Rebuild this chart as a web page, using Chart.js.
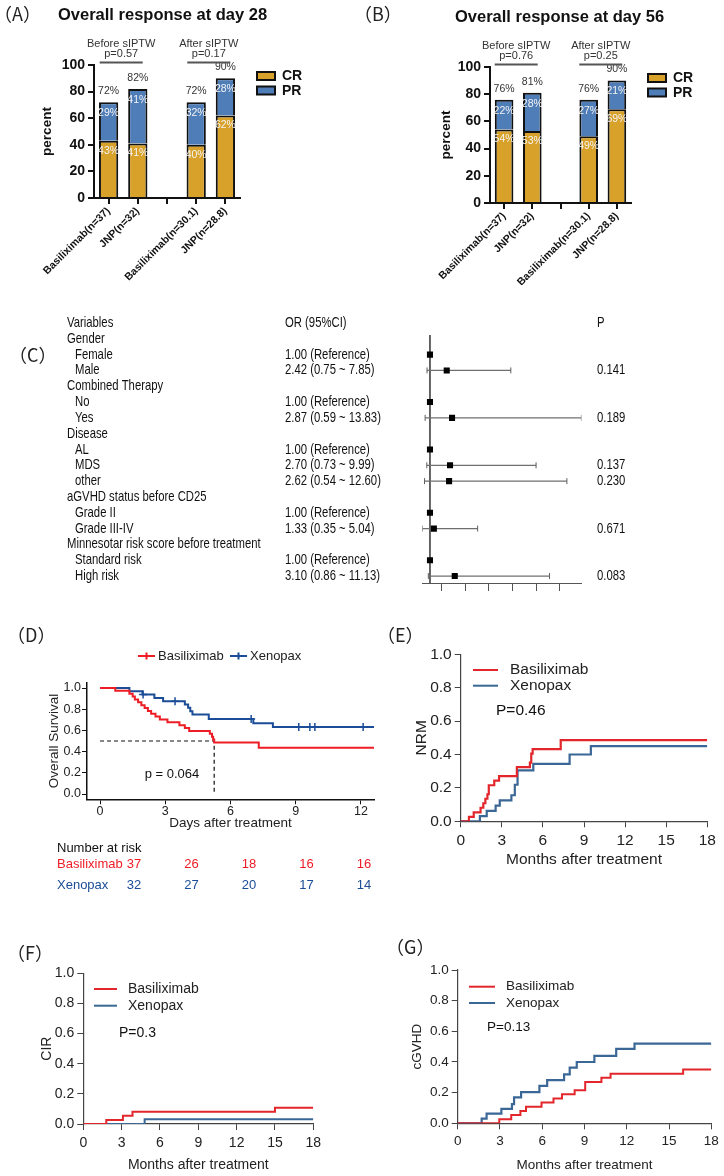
<!DOCTYPE html>
<html>
<head>
<meta charset="utf-8">
<script src="https://cdn.jsdelivr.net/npm/chart.js@4.4.1/dist/chart.umd.min.js"></script>
<style>
  body { margin: 0; background: #fff; }
  #page { position: relative; width: 724px; height: 1176px; overflow: hidden; }
  canvas { position: absolute; }
  .tag { position: absolute; font-family: "Noto Sans CJK SC", sans-serif; font-size: 18px; line-height: 18px; color: #222; white-space: nowrap; }
  .ttl { position: absolute; font-family: "Liberation Sans", Arial, sans-serif; font-weight: bold; font-size: 16.5px; line-height: 16.5px; color: #111; white-space: nowrap; }
</style>
</head>
<body>
<div id="page">
  <canvas id="chartA" width="362" height="285" style="left:0;top:0"></canvas>
  <canvas id="chartB" width="362" height="285" style="left:362px;top:0"></canvas>
  <canvas id="chartC" width="724" height="320" style="left:0;top:300px"></canvas>
  <canvas id="chartD" width="380" height="300" style="left:0;top:620px"></canvas>
  <canvas id="chartE" width="344" height="300" style="left:380px;top:620px"></canvas>
  <canvas id="chartF" width="362" height="256" style="left:0;top:920px"></canvas>
  <canvas id="chartG" width="362" height="256" style="left:362px;top:920px"></canvas>

  <div class="tag" style="left:-6px;top:4px">（A）</div>
  <div class="ttl" style="left:58px;top:6px">Overall response at day 28</div>
  <div class="tag" style="left:354px;top:4px">（B）</div>
  <div class="ttl" style="left:455px;top:8px">Overall response at day 56</div>
  <div class="tag" style="left:9px;top:345px">（C）</div>
  <div class="tag" style="left:7px;top:625px">（D）</div>
  <div class="tag" style="left:377px;top:625px">（E）</div>
  <div class="tag" style="left:7px;top:943px">（F）</div>
  <div class="tag" style="left:386px;top:937px">（G）</div>
</div>
<script>
// ---- data: overall response (A, B) ----
const barCategories = ['Basiliximab(n=37)', 'JNP(n=32)', '', 'Basiliximab(n=30.1)', 'JNP(n=28.8)'];
const day28CR = [43, 41, null, 40, 62];
const day28PR = [29, 41, null, 32, 28];
const day56CR = [54, 53, null, 49, 69];
const day56PR = [22, 28, null, 27, 21];
const groupNames = ['Before sIPTW', 'After sIPTW'];
const groupPairs = [[0, 1], [3, 4]];
const day28P = ['p=0.57', 'p=0.17'];
const day56P = ['p=0.76', 'p=0.25'];

// ---- data: forest plot (C) ----
const forestRows = ['Variables', 'Gender', 'Female', 'Male', 'Combined Therapy', 'No', 'Yes', 'Disease', 'AL', 'MDS', 'other',
  'aGVHD status before CD25', 'Grade II', 'Grade III-IV', 'Minnesotar risk score before treatment', 'Standard risk', 'High risk'];
const forestSub = [0, 0, 1, 1, 0, 1, 1, 0, 1, 1, 1, 0, 1, 1, 0, 1, 1];
const forestOrText = ['OR (95%CI)', '', '1.00 (Reference)', '2.42 (0.75 ~ 7.85)', '', '1.00 (Reference)', '2.87 (0.59 ~ 13.83)', '',
  '1.00 (Reference)', '2.70 (0.73 ~ 9.99)', '2.62 (0.54 ~ 12.60)', '', '1.00 (Reference)', '1.33 (0.35 ~ 5.04)', '', '1.00 (Reference)', '3.10 (0.86 ~ 11.13)'];
const forestOR = [null, null, 1, 2.42, null, 1, 2.87, null, 1, 2.70, 2.62, null, 1, 1.33, null, 1, 3.10];
const forestLow = [null, null, null, 0.75, null, null, 0.59, null, null, 0.73, 0.54, null, null, 0.35, null, null, 0.86];
const forestHigh = [null, null, null, 7.85, null, null, 13.83, null, null, 9.99, 12.60, null, null, 5.04, null, null, 11.13];
const forestP = ['P', '', '', '0.141', '', '', '0.189', '', '', '0.137', '0.230', '', '', '0.671', '', '', '0.083'];
const forestTicks = [2, 4, 6, 8, 10, 12];

// ---- data: overall survival (D) ----
const osBasiTime = [0, 0.7, 1.35, 1.5, 1.6, 1.75, 1.9, 2.05, 2.2, 2.35, 2.55, 2.75, 3.1, 3.65, 3.9, 4.1, 5.05, 5.15, 5.2, 5.25, 7.3, 12.6];
const osBasi = [1, 0.973, 0.946, 0.919, 0.892, 0.865, 0.838, 0.811, 0.784, 0.757, 0.730, 0.703, 0.676, 0.649, 0.622, 0.595, 0.568, 0.541, 0.514, 0.487, 0.437, 0.437];
const osXenoTime = [0, 1.35, 1.95, 2.5, 2.9, 3.9, 4.05, 4.15, 4.25, 5.0, 7.05, 7.95, 12.6];
const osXeno = [1, 0.969, 0.938, 0.906, 0.875, 0.844, 0.813, 0.781, 0.75, 0.707, 0.667, 0.632, 0.632];
const osXenoCensorTime = [1.98, 3.45, 6.95, 9.14, 9.65, 9.88, 12.1];
const osXenoCensor = [0.938, 0.875, 0.707, 0.632, 0.632, 0.632, 0.632];
const osMedianBasi = 5.25;
const riskTimes = [0, 3, 6, 9, 12];
const riskBasi = [37, 26, 18, 16, 16];
const riskXeno = [32, 27, 20, 17, 14];

// ---- data: NRM (E), CIR (F), cGVHD (G) ----
const nrmBasiTime = [0, 0.6, 0.95, 1.45, 1.65, 1.8, 1.95, 2.05, 2.45, 2.8, 4.1, 5.05, 5.15, 5.25, 7.3, 18];
const nrmBasi = [0, 0.027, 0.054, 0.081, 0.108, 0.135, 0.162, 0.216, 0.243, 0.27, 0.324, 0.351, 0.405, 0.432, 0.486, 0.486];
const nrmXenoTime = [0, 1.4, 1.9, 2.55, 2.85, 3.7, 3.95, 4.15, 5.3, 7.95, 9.5, 18];
const nrmXeno = [0, 0.031, 0.062, 0.094, 0.125, 0.156, 0.219, 0.305, 0.344, 0.40, 0.45, 0.45];
const cirBasiTime = [0, 1.8, 3.1, 3.85, 15.0, 18];
const cirBasi = [0, 0.027, 0.054, 0.081, 0.108, 0.108];
const cirXenoTime = [0, 4.8, 18];
const cirXeno = [0, 0.031, 0.031];
const gvhdBasiTime = [0, 2.95, 3.8, 4.45, 4.85, 5.95, 6.8, 7.4, 8.3, 9.05, 10.2, 10.85, 16.0, 18];
const gvhdBasi = [0, 0.027, 0.054, 0.081, 0.108, 0.135, 0.162, 0.189, 0.216, 0.27, 0.297, 0.324, 0.351, 0.351];
const gvhdXenoTime = [0, 1.7, 2.05, 3.1, 3.85, 4.0, 4.5, 5.8, 6.35, 7.55, 7.95, 8.45, 9.7, 11.25, 12.55, 18];
const gvhdXeno = [0, 0.031, 0.063, 0.094, 0.125, 0.169, 0.203, 0.244, 0.281, 0.319, 0.363, 0.40, 0.44, 0.485, 0.52, 0.52];

const FONT = '"Liberation Sans", Arial, Helvetica, sans-serif';
const CR_COLOR = '#D8A12A';
const PR_COLOR = '#4F7DB8';

Chart.defaults.font.family = FONT;
Chart.defaults.color = '#222';
Chart.defaults.animation = false;

function pairs(xs, ys) {
  return xs.map((x, i) => ({ x: x, y: ys[i] }));
}

// labels inside / above stacked bars, group headers and the CR/PR key
const responseLabelsPlugin = {
  id: 'responseLabels',
  afterDatasetsDraw(chart, args, opts) {
    const ctx = chart.ctx;
    const area = chart.chartArea;
    const x = chart.scales.x;
    const cr = chart.data.datasets[0].data;
    const pr = chart.data.datasets[1].data;
    const crMeta = chart.getDatasetMeta(0);
    const prMeta = chart.getDatasetMeta(1);
    ctx.save();
    ctx.textAlign = 'center';
    ctx.textBaseline = 'middle';
    ctx.font = '10.5px ' + FONT;
    cr.forEach((v, i) => {
      if (v == null) return;
      const a = crMeta.data[i], b = prMeta.data[i];
      ctx.fillStyle = '#f4f4f4';
      ctx.fillText(v + '%', a.x, a.y + 10);
      ctx.fillText(pr[i] + '%', b.x, b.y + 11);
      ctx.fillStyle = '#333';
      ctx.fillText((v + pr[i]) + '%', b.x, b.y - 11);
    });
    ctx.font = '11px ' + FONT;
    groupNames.forEach((name, g) => {
      const c = (x.getPixelForValue(groupPairs[g][0]) + x.getPixelForValue(groupPairs[g][1])) / 2 - 2;
      ctx.fillStyle = '#333';
      ctx.fillText(name, c, area.top - 21);
      ctx.fillText(opts.pLabels[g], c, area.top - 11);
      ctx.strokeStyle = '#555';
      ctx.lineWidth = 2;
      ctx.beginPath();
      ctx.moveTo(c - 21.5, area.top - 2.5);
      ctx.lineTo(c + 21.5, area.top - 2.5);
      ctx.stroke();
    });
    // key
    ctx.textAlign = 'left';
    ctx.font = 'bold 14px ' + FONT;
    chart.data.datasets.forEach((ds, k) => {
      const lx = area.right + 17, ly = area.top + 7 + k * 14.5;
      ctx.fillStyle = ds.backgroundColor;
      ctx.fillRect(lx, ly, 18, 8);
      ctx.strokeStyle = '#111';
      ctx.lineWidth = 2;
      ctx.strokeRect(lx, ly, 18, 8);
      ctx.fillStyle = '#111';
      ctx.fillText(ds.label, lx + 25, ly + 4.5);
    });
    ctx.restore();
  }
};

function responseChart(id, cr, pr, pLabels, box) {
  return new Chart(document.getElementById(id), {
    type: 'bar',
    data: {
      labels: barCategories,
      datasets: [
        { label: 'CR', data: cr, backgroundColor: CR_COLOR, borderColor: '#111', borderWidth: 2, barPercentage: 0.66, categoryPercentage: 1 },
        { label: 'PR', data: pr, backgroundColor: PR_COLOR, borderColor: '#111', borderWidth: 2, barPercentage: 0.66, categoryPercentage: 1 }
      ]
    },
    options: {
      responsive: false,
      devicePixelRatio: 1,
      layout: { padding: { left: box.padLeft, top: box.top, right: box.padRight, bottom: 0 } },
      plugins: { legend: { display: false }, tooltip: { enabled: false }, responseLabels: { pLabels: pLabels } },
      scales: {
        x: {
          stacked: true,
          grid: { offset: false, drawOnChartArea: false, tickLength: 6, color: '#111', lineWidth: 2 },
          border: { color: '#111', width: 2 },
          ticks: { font: { size: 10.5, weight: 'bold' }, color: '#111', minRotation: 45, maxRotation: 45, autoSkip: false, padding: 1 },
          afterFit: s => { s.height = box.xHeight; }
        },
        y: {
          stacked: true,
          min: 0,
          max: 100,
          ticks: { stepSize: 20, font: { size: 14, weight: 'bold' }, color: '#111', padding: 3 },
          grid: { drawOnChartArea: false, tickLength: 6, color: '#111', lineWidth: 2 },
          border: { color: '#111', width: 2 },
          title: { display: true, text: 'percent', font: { size: 13.5, weight: 'bold' }, color: '#111', padding: { top: 0, bottom: 4 } },
          afterFit: s => { s.width = box.yWidth; }
        }
      }
    },
    plugins: [responseLabelsPlugin]
  });
}

responseChart('chartA', day28CR, day28PR, day28P, { padLeft: 39, yWidth: 55, top: 65, padRight: 122, xHeight: 87 });
responseChart('chartB', day56CR, day56PR, day56P, { padLeft: 76, yWidth: 52, top: 67, padRight: 93, xHeight: 82 });

// ---- forest plot ----
// the source uses a narrow face; draw Liberation Sans squeezed horizontally
function narrowText(ctx, text, x, y) {
  ctx.save();
  ctx.translate(x, y);
  ctx.scale(0.78, 1);
  ctx.fillText(text, 0, 0);
  ctx.restore();
}

const forestTextPlugin = {
  id: 'forestText',
  afterDraw(chart) {
    const ctx = chart.ctx;
    const y = chart.scales.y;
    ctx.save();
    ctx.font = '14.5px ' + FONT;
    ctx.fillStyle = '#111';
    ctx.textBaseline = 'middle';
    ctx.textAlign = 'left';
    forestRows.forEach((label, i) => {
      const py = y.getPixelForValue(i);
      narrowText(ctx, label, forestSub[i] ? 75 : 67, py);
      narrowText(ctx, forestOrText[i], 285, py);
      narrowText(ctx, forestP[i], 597, py);
    });
    ctx.restore();
  }
};

const forestSets = [];
forestOR.forEach((v, i) => {
  if (forestLow[i] == null) return;
  forestSets.push({
    data: [{ x: forestLow[i], y: i }, { x: forestHigh[i], y: i }],
    borderColor: '#6f6f6f', borderWidth: 1.2,
    pointStyle: 'line', rotation: 90, pointRadius: 3, pointBorderColor: '#5f5f5f', pointBorderWidth: 1,
    order: 1
  });
});
forestSets.push({
  data: forestOR.map((v, i) => (v == null ? null : { x: v, y: i })).filter(p => p),
  showLine: false, pointStyle: 'rect', pointRadius: 4.3,
  pointBackgroundColor: '#000', pointBorderColor: '#000', pointBorderWidth: 0, order: 0
});
forestSets.push({
  data: [{ x: 1, y: 0.76 }, { x: 1, y: 16.44 }],
  borderColor: '#333', borderWidth: 1.5, pointRadius: 0, order: 2
});

new Chart(document.getElementById('chartC'), {
  type: 'line',
  data: { datasets: forestSets },
  options: {
    responsive: false,
    devicePixelRatio: 1,
    layout: { padding: { left: 422.3, right: 142.6, top: 35, bottom: 27 } },
    plugins: { legend: { display: false }, tooltip: { enabled: false } },
    scales: {
      x: {
        type: 'linear', min: 0.35, max: 13.83,
        afterBuildTicks: s => { s.ticks = forestTicks.map(v => ({ value: v })); },
        ticks: { display: false },
        grid: { drawOnChartArea: false, tickLength: 8, color: '#555' },
        border: { color: '#555', width: 1 },
        afterFit: s => { s.height = 10; }
      },
      y: { type: 'linear', reverse: true, min: 0.76, max: 16.44, display: false }
    }
  },
  plugins: [forestTextPlugin]
});

// ---- step curves ----
const lineLegendPlugin = {
  id: 'lineLegend',
  afterDraw(chart, args, o) {
    if (!o.entries) return;
    const ctx = chart.ctx;
    const area = chart.chartArea;
    ctx.save();
    ctx.font = o.fontSize + 'px ' + FONT;
    ctx.textBaseline = 'middle';
    o.entries.forEach((e, k) => {
      const ds = chart.data.datasets[k];
      const x0 = area.left + e.x, y0 = area.top + e.y;
      ctx.strokeStyle = ds.borderColor;
      ctx.lineWidth = 2;
      ctx.beginPath();
      ctx.moveTo(x0, y0);
      ctx.lineTo(x0 + o.len, y0);
      if (o.cross) {
        ctx.moveTo(x0 + o.len / 2, y0 - 3.5);
        ctx.lineTo(x0 + o.len / 2, y0 + 3.5);
      }
      ctx.stroke();
      ctx.fillStyle = '#222';
      ctx.textAlign = 'left';
      ctx.fillText(ds.label, area.left + e.tx, y0);
    });
    ctx.fillStyle = '#111';
    ctx.textAlign = o.pAlign || 'left';
    ctx.fillText(o.pText, area.left + o.px, area.top + o.py);
    if (o.risk) {
      const r = o.risk;
      ctx.textAlign = 'left';
      ctx.fillStyle = '#111';
      ctx.fillText('Number at risk', r.x, r.y0);
      r.rows.forEach((row, k) => {
        const ds = chart.data.datasets[k];
        ctx.fillStyle = ds.borderColor;
        ctx.textAlign = 'left';
        ctx.fillText(ds.label, r.x, r.y1 + k * r.dy);
        ctx.textAlign = 'center';
        row.forEach((n, j) => ctx.fillText(String(n), r.c0 + j * r.dc, r.y1 + k * r.dy));
      });
    }
    ctx.restore();
  }
};

function curveSet(label, color, xs, ys, width) {
  return { label: label, data: pairs(xs, ys), borderColor: color, backgroundColor: color, borderWidth: width || 2,
           stepped: true, pointRadius: 0, fill: false };
}

function stepChart(id, cfg) {
  return new Chart(document.getElementById(id), {
    type: 'line',
    data: { datasets: cfg.datasets },
    options: {
      responsive: false,
      devicePixelRatio: 1,
      layout: { padding: cfg.padding },
      plugins: { legend: { display: false }, tooltip: { enabled: false }, lineLegend: cfg.legend },
      scales: {
        x: {
          type: 'linear', min: cfg.xMin, max: cfg.xMax,
          ticks: { stepSize: 3, includeBounds: false, font: { size: cfg.font }, color: '#222', padding: cfg.xPad, maxRotation: 0 },
          grid: { drawOnChartArea: false, tickLength: cfg.tick, color: cfg.axisColor },
          border: { color: cfg.axisColor, width: cfg.axisWidth },
          title: { display: true, text: cfg.xTitle, font: { size: cfg.titleFont }, color: '#222', padding: { top: 4, bottom: cfg.titleBottom } },
          afterFit: s => { s.height = cfg.xHeight; }
        },
        y: {
          type: 'linear', min: cfg.yMin, max: cfg.yMax,
          ticks: { stepSize: 0.2, includeBounds: false, font: { size: cfg.font }, color: '#222', padding: cfg.yPad,
                   callback: v => v.toFixed(1) },
          grid: { drawOnChartArea: false, tickLength: cfg.tick, color: cfg.axisColor },
          border: { color: cfg.axisColor, width: cfg.axisWidth },
          title: { display: true, text: cfg.yTitle, font: { size: cfg.titleFont }, color: '#222', padding: { top: 4, bottom: 2 } },
          afterFit: s => { s.width = cfg.yWidth; }
        }
      }
    },
    plugins: [lineLegendPlugin]
  });
}

// D: overall survival
stepChart('chartD', {
  datasets: [
    curveSet('Basiliximab', '#EE1C25', osBasiTime, osBasi),
    curveSet('Xenopax', '#1B4C97', osXenoTime, osXeno),
    { label: 'censor', data: pairs(osXenoCensorTime, osXenoCensor), showLine: false, pointStyle: 'cross',
      pointRadius: 4, pointBorderColor: '#1B4C97', pointBorderWidth: 1.5 },
    { label: 'median', data: [{ x: 0, y: 0.5 }, { x: osMedianBasi, y: 0.5 }, { x: osMedianBasi, y: 0 }],
      borderColor: '#111', borderWidth: 1.2, borderDash: [4, 3], pointRadius: 0, order: 5 }
  ],
  padding: { left: 42, right: 6, top: 62.7, bottom: 84.7 },
  yWidth: 45, xHeight: 36,
  xMin: -0.6, xMax: 12.6, yMin: -0.05, yMax: 1.05,
  font: 12.5, titleFont: 13.5, xPad: 0, yPad: 1, tick: 5, titleBottom: 4,
  axisColor: '#111', axisWidth: 1.5,
  xTitle: 'Days after treatment', yTitle: 'Overall Survival',
  legend: {
    entries: [{ x: 51, y: -26.7, tx: 71 }, { x: 143, y: -26.7, tx: 163 }],
    len: 17, cross: true, fontSize: 13,
    pText: 'p = 0.064', px: 85, py: 91.3, pAlign: 'center',
    risk: { x: 57, y0: 228, y1: 244, dy: 21, c0: 134, dc: 57.5, rows: [riskBasi, riskXeno] }
  }
});

// E: NRM
stepChart('chartE', {
  datasets: [
    curveSet('Basiliximab', '#E2262B', nrmBasiTime, nrmBasi, 2.2),
    curveSet('Xenopax', '#3A6795', nrmXenoTime, nrmXeno, 2.2)
  ],
  padding: { left: 28.4, right: 16.7, top: 34.3, bottom: 46.7 },
  yWidth: 52.3, xHeight: 52,
  xMin: 0, xMax: 18, yMin: 0, yMax: 1,
  font: 15.5, titleFont: 15.5, xPad: 4, yPad: 3, tick: 6, titleBottom: 4,
  axisColor: '#444', axisWidth: 1.2,
  xTitle: 'Months after treatment', yTitle: 'NRM',
  legend: {
    entries: [{ x: 12.3, y: 15.7, tx: 49.3 }, { x: 12.3, y: 31.4, tx: 49.3 }],
    len: 25, fontSize: 15.5,
    pText: 'P=0.46', px: 35.3, py: 56.7
  }
});

// F: CIR
stepChart('chartF', {
  datasets: [
    curveSet('Basiliximab', '#E2262B', cirBasiTime, cirBasi),
    curveSet('Xenopax', '#3A6795', cirXenoTime, cirXeno)
  ],
  padding: { left: 34.3, right: 48.7, top: 53.3, bottom: 2.6 },
  yWidth: 49, xHeight: 49.4,
  xMin: 0, xMax: 18, yMin: 0, yMax: 1,
  font: 14, titleFont: 14, xPad: 5, yPad: 3, tick: 6, titleBottom: 0,
  axisColor: '#444', axisWidth: 1.2,
  xTitle: 'Months after treatment', yTitle: 'CIR',
  legend: {
    entries: [{ x: 10.7, y: 15.7, tx: 44.7 }, { x: 10.7, y: 32.4, tx: 44.7 }],
    len: 23, fontSize: 14,
    pText: 'P=0.3', px: 35.7, py: 59.7
  }
});

// G: cGVHD
stepChart('chartG', {
  datasets: [
    curveSet('Basiliximab', '#E2262B', gvhdBasiTime, gvhdBasi),
    curveSet('Xenopax', '#3A6795', gvhdXenoTime, gvhdXeno, 2.2)
  ],
  padding: { left: 42.9, right: 12.7, top: 50, bottom: 2.9 },
  yWidth: 52.8, xHeight: 49.8,
  xMin: 0, xMax: 18, yMin: 0, yMax: 1,
  font: 13.5, titleFont: 13.5, xPad: 4.3, yPad: 3, tick: 6, titleBottom: 0,
  axisColor: '#444', axisWidth: 1.2,
  xTitle: 'Months after treatment', yTitle: 'cGVHD',
  legend: {
    entries: [{ x: 11.3, y: 16.7, tx: 48.3 }, { x: 11.3, y: 33, tx: 48.3 }],
    len: 26, fontSize: 13.5,
    pText: 'P=0.13', px: 29.3, py: 57
  }
});
</script>
</body>
</html>
